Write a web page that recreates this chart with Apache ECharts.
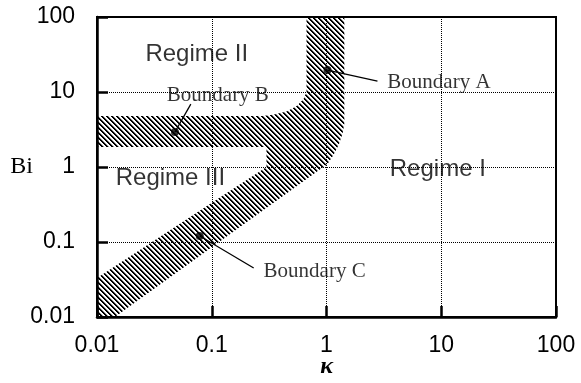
<!DOCTYPE html>
<html><head><meta charset="utf-8">
<script src="https://cdn.jsdelivr.net/npm/echarts@6/dist/echarts.min.js"></script>
<style>html,body{margin:0;padding:0;background:#fff}#c{width:581px;height:383px}</style>
</head><body><div id="c"></div>
<script>
// ---- data ----
const xTicks = [0.01, 0.1, 1, 10, 100];
const yTicks = [0.01, 0.1, 1, 10, 100];
const xTickLabels = ['0.01', '0.1', '1', '10', '100'];
const yTickLabels = ['0.01', '0.1', '1', '10', '100'];

// outline of the hatched boundary band (kappa, Bi)
const bandKappa = [0.67, 0.67, 0.63, 0.55, 0.45, 0.35, 0.28, 0.01, 0.01, 0.30, 0.30, 0.01, 0.01, 0.0143, 1.02, 1.15, 1.28, 1.38, 1.43, 1.43];
const bandBi    = [100, 10, 8.0, 6.5, 5.5, 5.0, 4.8, 4.8, 1.85, 1.85, 1.0, 0.033, 0.01, 0.01, 1.1, 1.45, 2.0, 2.8, 3.8, 100];

const regimeNames = ['Regime II', 'Regime III', 'Regime I'];
const regimeKappa = [0.074, 0.0436, 9.33];
const regimeBi = [32.1, 0.713, 0.94];

const boundaryNames = ['Boundary A', 'Boundary B', 'Boundary C'];
const boundaryDotKappa = [1.02, 0.0478, 0.0786];
const boundaryDotBi = [19.6, 2.93, 0.120];
const leaderEndKappa = [2.78, 0.0657, 0.232];
const leaderEndBi = [14.0, 6.9, 0.045];
const boundaryLabelKappa = [3.39, 0.113, 0.283];
const boundaryLabelBi = [13.2, 8.85, 0.041];
const boundaryLabelAlign = ['left', 'center', 'left'];

// ---- hatch pattern (pixel exact, diagonal "\" lines) ----
function makeHatch() {
  const s = 5;
  const c = document.createElement('canvas');
  c.width = s; c.height = s;
  const g = c.getContext('2d');
  const img = g.createImageData(s, s);
  for (let y = 0; y < s; y++) {
    for (let x = 0; x < s; x++) {
      const d = ((x - y) % s + s) % s;
      const a = (d === 0 || d === 1) ? 255 : (d === 2 ? 90 : 0);
      const p = (y * s + x) * 4;
      img.data[p] = 0; img.data[p + 1] = 0; img.data[p + 2] = 0;
      img.data[p + 3] = a;
    }
  }
  g.putImageData(img, 0, 0);
  return c;
}
const hatch = makeHatch();

function tickFmt(ticks, labels) {
  return function (v) {
    let best = 0, bd = Infinity;
    ticks.forEach((t, i) => { const d = Math.abs(Math.log10(t) - Math.log10(v)); if (d < bd) { bd = d; best = i; } });
    return bd < 0.01 ? labels[best] : '';
  };
}

const axisCommon = {
  type: 'log', logBase: 10, min: 0.01, max: 100,
  nameMoveOverlap: false,
  axisLine: { show: true, onZero: false, lineStyle: { color: '#000', width: 2.5 } },
  axisTick: { show: true, inside: true, length: 11, lineStyle: { color: '#000', width: 2.5 } },
  splitLine: { show: true, lineStyle: { type: 'dotted', color: '#000', width: 1 } },
  minorTick: { show: false }, minorSplitLine: { show: false }
};

const series = [];
series.push({
  type: 'custom', coordinateSystem: 'cartesian2d', silent: true, z: 1,
  data: [[bandKappa[0], bandBi[0]]],
  renderItem: function (params, api) {
    const pts = bandKappa.map((k, i) => api.coord([k, bandBi[i]]));
    return { type: 'polygon', shape: { points: pts }, style: { fill: { image: hatch, repeat: 'repeat' }, stroke: null } };
  }
});
boundaryNames.forEach((n, i) => {
  series.push({
    type: 'line', silent: true, z: 3, symbol: 'none',
    lineStyle: { color: '#000', width: 1.3 },
    data: [[boundaryDotKappa[i], boundaryDotBi[i]], [leaderEndKappa[i], leaderEndBi[i]]]
  });
});
series.push({
  type: 'scatter', silent: true, z: 4, symbolSize: 8,
  itemStyle: { color: '#000' },
  data: boundaryDotKappa.map((k, i) => [k, boundaryDotBi[i]])
});
series.push({
  type: 'scatter', silent: true, z: 5, symbolSize: 1,
  itemStyle: { color: 'rgba(0,0,0,0)' },
  data: regimeNames.map((n, i) => ({ value: [regimeKappa[i], regimeBi[i]], name: n })),
  label: { show: true, position: 'inside', formatter: '{b}', color: '#000', fontSize: 24, fontFamily: 'Liberation Sans', align: 'center', verticalAlign: 'middle' }
});
series.push({
  type: 'scatter', silent: true, z: 5, symbolSize: 1,
  itemStyle: { color: 'rgba(0,0,0,0)' },
  data: boundaryNames.map((n, i) => ({
    value: [boundaryLabelKappa[i], boundaryLabelBi[i]], name: n,
    label: { align: boundaryLabelAlign[i] }
  })),
  label: { show: true, position: 'inside', formatter: '{b}', color: '#000', fontSize: 21, fontFamily: 'Liberation Serif', verticalAlign: 'middle' }
});

const chart = echarts.init(document.getElementById('c'));
chart.setOption({
  animation: false,
  backgroundColor: '#fff',
  grid: { left: 97, right: 25, top: 17, bottom: 66, containLabel: false, outerBoundsMode: 'none', show: true, borderColor: '#000', borderWidth: 2, backgroundColor: 'transparent' },
  xAxis: Object.assign({}, axisCommon, {
    axisLabel: { fontSize: 23, color: '#000', fontFamily: 'Liberation Sans', margin: 17, showMinLabel: true, showMaxLabel: true, formatter: tickFmt(xTicks, xTickLabels) },
    name: 'κ', nameLocation: 'middle', nameGap: 38,
    nameTextStyle: { fontSize: 24, color: '#000', fontFamily: 'Liberation Serif', fontStyle: 'italic', fontWeight: 'bold' }
  }),
  yAxis: Object.assign({}, axisCommon, {
    axisLabel: { fontSize: 23, color: '#000', fontFamily: 'Liberation Sans', margin: 22, showMinLabel: true, showMaxLabel: true, formatter: tickFmt(yTicks, yTickLabels) },
    name: 'Bi', nameLocation: 'middle', nameRotate: 0, nameGap: 64,
    nameTextStyle: { fontSize: 24, color: '#000', fontFamily: 'Liberation Serif', align: 'right', verticalAlign: 'middle' }
  }),
  series: series
});
</script>
</body></html>
